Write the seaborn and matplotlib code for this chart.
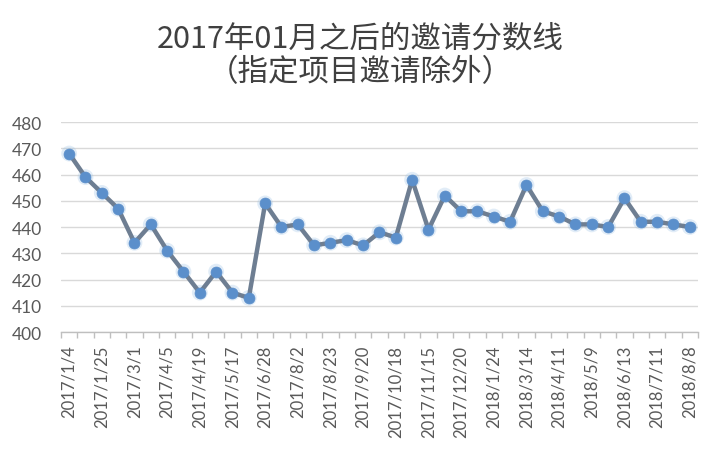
import numpy as np
import pandas as pd
import seaborn as sns
import matplotlib.pyplot as plt
from matplotlib.ticker import FixedLocator

# draw dates (only every other one is labelled in the chart)
dates = ['2017/1/4', '2017/1/11', '2017/1/25', '2017/2/8', '2017/3/1',
         '2017/3/24', '2017/4/5', '2017/4/12', '2017/4/19', '2017/5/4',
         '2017/5/17', '2017/5/31', '2017/6/28', '2017/7/12', '2017/8/2',
         '2017/8/9', '2017/8/23', '2017/9/6', '2017/9/20', '2017/10/4',
         '2017/10/18', '2017/11/1', '2017/11/15', '2017/12/6', '2017/12/20',
         '2018/1/10', '2018/1/24', '2018/2/21', '2018/3/14', '2018/3/26',
         '2018/4/11', '2018/4/25', '2018/5/9', '2018/5/23', '2018/6/13',
         '2018/6/25', '2018/7/11', '2018/7/25', '2018/8/8']
scores = [468, 459, 453, 447, 434, 441, 431, 423, 415, 423,
          415, 413, 449, 440, 441, 433, 434, 435, 433, 438,
          436, 458, 439, 452, 446, 446, 444, 442, 456, 446,
          444, 441, 441, 440, 451, 442, 442, 441, 440]
yticks = [400, 410, 420, 430, 440, 450, 460, 470, 480]

title1 = '2017年01月之后的邀请分数线'
title2 = '（指定项目邀请除外）'

sns.set_style('white')
plt.rcParams['font.family'] = ['Lato', 'Noto Sans CJK SC', 'DejaVu Sans']

df = pd.DataFrame({'date': dates, 'score': scores})

fig = plt.figure(figsize=(7.2, 4.56), dpi=100)
ax = fig.add_axes([0.0847, 0.2697, 0.8847, 0.4605])

# soft glow behind markers
sns.scatterplot(x='date', y='score', data=df, ax=ax, s=130, color='#9DC3E6',
                alpha=0.3, edgecolor='none', zorder=2, legend=False)
sns.lineplot(x='date', y='score', data=df, ax=ax, color='#6E7E92',
             linewidth=3.2, sort=False, zorder=3)
sns.scatterplot(x='date', y='score', data=df, ax=ax, s=62, color='#5B8FCB',
                edgecolor='#5B8FCB', linewidth=0.5, zorder=4, legend=False)

ax.set_xlim(-0.5, len(dates) - 0.5)
ax.set_ylim(400, 480)
ax.set_yticks(yticks)
ax.set_yticklabels([str(v) for v in yticks], fontsize=12.5, color='#595959')
ax.yaxis.grid(True, color='#D9D9D9', linewidth=1)
ax.xaxis.grid(False)
ax.set_axisbelow(True)

pos = np.arange(len(dates))
ax.set_xticks(pos[::2])
ax.set_xticklabels(dates[::2], rotation=90, fontsize=12, color='#595959')
ax.xaxis.set_minor_locator(FixedLocator(np.arange(len(dates) + 1) - 0.5))
ax.tick_params(axis='x', which='major', length=0, pad=9)
ax.tick_params(axis='x', which='minor', length=4, color='#BFBFBF', width=1,
               direction='out', bottom=True)
ax.tick_params(axis='y', length=0, pad=13.5)

for side in ['top', 'right', 'left']:
    ax.spines[side].set_visible(False)
ax.spines['bottom'].set_color('#BFBFBF')
ax.spines['bottom'].set_linewidth(1)
ax.set_xlabel('')
ax.set_ylabel('')

fig.text(0.5, 0.915, title1, ha='center', va='center', fontsize=22,
         color='#404040', family=['Noto Sans CJK SC', 'DejaVu Sans'])
fig.text(0.5, 0.84, title2, ha='center', va='center', fontsize=22,
         color='#404040', family=['Noto Sans CJK SC', 'DejaVu Sans'])

fig.savefig('out.png', dpi=100, facecolor='white')
